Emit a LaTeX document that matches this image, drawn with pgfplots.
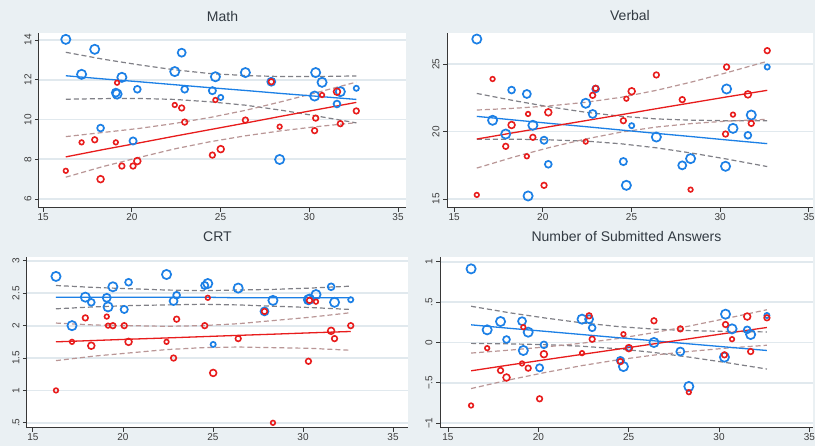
\documentclass[border=0pt]{standalone}
\usepackage{pgfplots}
\pgfplotsset{compat=1.18}
\usepackage{pgfplotstable}
\usepackage{fontspec}
\setmainfont{Liberation Sans}
\definecolor{bg}{RGB}{234,240,243}
\definecolor{gridc}{RGB}{225,233,238}
\definecolor{axc}{RGB}{55,55,55}
\definecolor{tickc}{RGB}{60,60,60}
\definecolor{titc}{RGB}{50,58,66}
\definecolor{mblue}{RGB}{28,128,230}
\definecolor{mred}{RGB}{232,28,28}
\definecolor{bband}{RGB}{128,128,135}
\definecolor{rband}{RGB}{185,150,150}

% per-subject marker radii (pt): bs = blue, rs = red
\pgfplotstableread{
x     bs  rs  b      r
16.28 4.6 2.3 14.03  7.42
17.17 4.6 2.3 12.27  8.85
17.91 4.6 2.8 13.53  8.98
18.24 3.4 3.4  9.57  7.00
19.10 4.0 2.3 11.35  8.85
19.17 4.6 2.3 11.28 11.85
19.44 4.6 2.8 12.12  7.66
20.07 3.6 2.8  8.92  7.66
20.31 3.4 3.4 11.52  7.91
22.42 4.6 2.3 12.41 10.73
22.81 4.0 2.8 13.36 10.58
22.98 3.4 2.8 11.52  9.87
24.54 3.6 2.8 11.45  8.21
24.71 4.6 2.3 12.15 10.98
25.01 2.6 3.4 11.11  8.51
26.40 4.6 2.8 12.36  9.97
27.86 4.0 2.8 11.90 11.90
28.33 4.6 2.3  7.99  9.64
30.30 4.6 2.8 11.18  9.44
30.36 4.6 2.8 12.36 10.07
30.72 4.6 2.3 11.87 11.23
31.56 3.4 3.4 10.78 11.40
31.75 4.6 2.8 11.40  9.79
32.65 2.6 2.8 11.57 10.43
}\mathtab
\pgfplotstableread{
x     bs  rs  b      r
16.28 4.6 2.3 26.85 15.30
17.17 4.6 2.3 20.83 23.89
17.91 4.6 2.8 19.81 18.90
18.24 3.4 3.4 23.07 20.48
19.10 4.0 2.3 22.78 18.16
19.17 4.6 2.3 15.22 21.30
19.44 4.6 2.8 20.46 19.57
20.07 3.6 2.8 19.35 16.01
20.31 3.4 3.4 17.57 21.42
22.42 4.6 2.3 22.09 19.25
22.81 4.0 2.8 21.30 22.68
22.98 3.4 2.8 23.15 23.20
24.54 3.6 2.8 17.77 20.80
24.71 4.6 2.3 16.01 22.43
25.01 2.6 3.4 20.43 22.98
26.40 4.6 2.8 19.59 24.19
27.86 4.0 2.8 17.49 22.36
28.33 4.6 2.3 17.99 15.69
30.30 4.6 2.8 17.42 19.81
30.36 4.6 2.8 23.15 24.78
30.72 4.6 2.3 20.23 21.25
31.56 3.4 3.4 19.72 22.75
31.75 4.6 2.8 21.22 20.60
32.65 2.6 2.8 24.78 25.99
}\verbtab
\pgfplotstableread{
x     bs  rs  b     r
16.28 4.6 2.3 2.76 1.00
17.17 4.6 2.3 2.00 1.75
17.91 4.6 2.8 2.44 2.12
18.24 3.4 3.4 2.36 1.69
19.10 4.0 2.3 2.43 2.14
19.17 4.6 2.3 2.29 2.00
19.44 4.6 2.8 2.60 2.00
20.07 3.6 2.8 2.25 2.00
20.31 3.4 3.4 2.67 1.75
22.42 4.6 2.3 2.79 1.75
22.81 4.0 2.8 2.38 1.50
22.98 3.4 2.8 2.47 2.10
24.54 3.6 2.8 2.62 2.00
24.71 4.6 2.3 2.65 2.43
25.01 2.6 3.4 1.71 1.27
26.40 4.6 2.8 2.58 1.80
27.86 4.0 2.8 2.22 2.22
28.33 4.6 2.3 2.39 0.50
30.30 4.6 2.8 2.40 1.45
30.36 4.6 2.8 2.41 2.39
30.72 4.6 2.3 2.48 2.37
31.56 3.4 3.4 2.60 1.92
31.75 4.6 2.8 2.36 1.80
32.65 2.6 2.8 2.40 2.00
}\crttab
\pgfplotstableread{
x     bs  rs  b      r
16.28 4.6 2.3  0.913 -0.781
17.17 4.6 2.3  0.157 -0.070
17.91 4.6 2.8  0.260 -0.347
18.24 3.4 3.4  0.037 -0.434
19.10 4.0 2.3  0.264 -0.260
19.17 4.6 2.3 -0.099  0.190
19.44 4.6 2.8  0.128 -0.318
20.07 3.6 2.8 -0.314 -0.698
20.31 3.4 3.4 -0.029 -0.145
22.42 4.6 2.3  0.289 -0.132
22.81 4.0 2.8  0.289  0.331
22.98 3.4 2.8  0.182  0.041
24.54 3.6 2.8 -0.223 -0.236
24.71 4.6 2.3 -0.298  0.103
25.01 2.6 3.4 -0.070 -0.070
26.40 4.6 2.8  0.000  0.269
27.86 4.0 2.8 -0.112  0.169
28.33 4.6 2.3 -0.545 -0.616
30.30 4.6 2.8 -0.182 -0.153
30.36 4.6 2.8  0.351  0.223
30.72 4.6 2.3  0.169  0.041
31.56 3.4 3.4  0.157  0.322
31.75 4.6 2.8  0.099 -0.112
32.65 2.6 2.8  0.335  0.306
}\numtab

% fitted lines and confidence bands
\pgfplotstableread{
x     bf    bu    bl    rf    ru    rl
16.28 12.20 13.38 11.02  8.12  9.14  7.10
18.4  12.04 13.03 11.05  8.49  9.35  7.64
20.4  11.90 12.75 11.06  8.82  9.55  8.09
22.4  11.75 12.50 11.01  9.16  9.80  8.52
24.4  11.60 12.31 10.89  9.49 10.10  8.88
26.4  11.46 12.21 10.72  9.82 10.46  9.18
28.4  11.31 12.16 10.47 10.16 10.89  9.43
30.4  11.17 12.16 10.18 10.49 11.35  9.64
32.65 11.01 12.19  9.83 10.86 11.88  9.84
}\mathfit
\pgfplotstableread{
x     bf    bu    bl    rf    ru    rl
16.28 21.12 22.82 19.42 19.44 21.59 17.29
18.4  20.85 22.28 19.43 19.92 21.72 18.12
20.4  20.60 21.82 19.38 20.36 21.90 18.82
22.4  20.36 21.43 19.29 20.80 22.16 19.44
24.4  20.11 21.13 19.09 21.24 22.53 19.95
26.4  19.86 20.93 18.79 21.69 23.05 20.33
28.4  19.62 20.84 18.40 22.13 23.67 20.59
30.4  19.37 20.80 17.95 22.57 24.37 20.77
32.65 19.10 20.80 17.40 23.05 25.20 20.90
}\verbfit
\pgfplotstableread{
x     bf    bu    bl    rf    ru    rl
16.28 2.44 2.62 2.26 1.750 2.04 1.46
18.4  2.44 2.59 2.29 1.771 2.01 1.53
20.4  2.44 2.57 2.31 1.791 2.00 1.58
22.4  2.44 2.55 2.32 1.810 1.99 1.63
24.4  2.44 2.54 2.33 1.830 2.00 1.66
26.4  2.43 2.55 2.32 1.850 2.03 1.67
28.4  2.43 2.56 2.30 1.869 2.08 1.66
30.4  2.43 2.58 2.28 1.889 2.13 1.65
32.65 2.43 2.61 2.25 1.910 2.20 1.62
}\crtfit
\pgfplotstableread{
x     bf     bu    bl     rf     ru     rl
16.28  0.219 0.449 -0.011 -0.351 -0.131 -0.571
18.4   0.176 0.369 -0.017 -0.279 -0.095 -0.463
20.4   0.138 0.303 -0.027 -0.213 -0.055 -0.371
22.4   0.099 0.244 -0.046 -0.148 -0.009 -0.287
24.4   0.060 0.198 -0.078 -0.083  0.049 -0.215
26.4   0.021 0.166 -0.124 -0.017  0.122 -0.156
28.4  -0.018 0.147 -0.183  0.048  0.206 -0.110
30.4  -0.056 0.137 -0.249  0.114  0.298 -0.070
32.65 -0.099 0.131 -0.329  0.186  0.406 -0.034
}\numfit

\pgfplotsset{
  panel/.style={
    scale only axis,
    axis background/.style={fill=white},
    axis x line*=bottom, axis y line*=left,
    axis line style={draw=axc, line width=1pt},
    tick align=outside, major tick length=4pt,
    every tick/.style={draw=axc, line width=0.9pt},
    ymajorgrids, major grid style={draw=gridc, line width=1.8pt},
    xtick={15,20,25,30,35},
    ticklabel style={font=\fontsize{10}{12}\selectfont, text=tickc},
    xticklabel style={inner sep=1.5pt},
    yticklabel style={rotate=90, anchor=south},
    /pgf/number format/assume math mode=true,
    title style={font=\fontsize{14}{16}\selectfont, text=titc, at={(0.5,1)}, anchor=center},
    clip=false,
  },
  bpts/.style={scatter, only marks, mark=o,
    scatter/use mapped color={draw=mblue, line width=1.7pt},
    visualization depends on={\thisrow{bs} \as \ms},
    scatter/@pre marker code/.append style={/tikz/mark size=\ms, /tikz/line width=1.7pt},
    scatter/@post marker code/.append style={}},
  rpts/.style={scatter, only marks, mark=o,
    scatter/use mapped color={draw=mred, line width=1.6pt},
    visualization depends on={\thisrow{rs} \as \ms},
    scatter/@pre marker code/.append style={/tikz/mark size=\ms, /tikz/line width=1.6pt},
    scatter/@post marker code/.append style={}},
  bci/.style={no marks, draw=bband, line width=1.2pt, dash pattern=on 5pt off 3pt},
  rci/.style={no marks, draw=rband, line width=1.2pt, dash pattern=on 5pt off 3pt},
  bfit/.style={no marks, draw=mblue, line width=1.3pt},
  rfit/.style={no marks, draw=mred, line width=1.3pt},
}

\begin{document}
\begin{tikzpicture}
\useasboundingbox (0,0) rectangle (815pt,446pt);
\fill[bg] (0,0) rectangle (815pt,446pt);

% Math
\begin{axis}[panel, at={(39pt,238pt)}, anchor=south west,
  width=367pt, height=175pt,
  xmin=14.77, xmax=35.45, ymin=5.55, ymax=14.35,
  ytick={6,8,10,12,14},
  title=Math, title style={yshift=11pt}]
\addplot[bpts] table[x=x,y=b] \mathtab;
\addplot[rpts] table[x=x,y=r] \mathtab;
\addplot[bci] table[x=x,y=bu] \mathfit;
\addplot[bci] table[x=x,y=bl] \mathfit;
\addplot[rci] table[x=x,y=ru] \mathfit;
\addplot[rci] table[x=x,y=rl] \mathfit;
\addplot[bfit] table[x=x,y=bf] \mathfit;
\addplot[rfit] table[x=x,y=rf] \mathfit;
\end{axis}

% Verbal
\begin{axis}[panel, at={(447pt,238pt)}, anchor=south west,
  width=366pt, height=175pt,
  xmin=14.6, xmax=35.23, ymin=14.33, ymax=27.3,
  ytick={15,20,25},
  title=Verbal, title style={yshift=11pt}]
\addplot[bpts] table[x=x,y=b] \verbtab;
\addplot[rpts] table[x=x,y=r] \verbtab;
\addplot[bci] table[x=x,y=bu] \verbfit;
\addplot[bci] table[x=x,y=bl] \verbfit;
\addplot[rci] table[x=x,y=ru] \verbfit;
\addplot[rci] table[x=x,y=rl] \verbfit;
\addplot[bfit] table[x=x,y=bf] \verbfit;
\addplot[rfit] table[x=x,y=rf] \verbfit;
\end{axis}

% CRT
\begin{axis}[panel, at={(27pt,18pt)}, anchor=south west,
  width=381pt, height=171pt,
  xmin=14.67, xmax=35.83, ymin=0.42, ymax=3.06,
  ytick={0.5,1,1.5,2,2.5,3},
  yticklabels={.5,1,1.5,2,2.5,3},
  title=CRT, title style={yshift=14pt}]
\addplot[bpts] table[x=x,y=b] \crttab;
\addplot[rpts] table[x=x,y=r] \crttab;
\addplot[bci] table[x=x,y=bu] \crtfit;
\addplot[bci] table[x=x,y=bl] \crtfit;
\addplot[rci] table[x=x,y=ru] \crtfit;
\addplot[rci] table[x=x,y=rl] \crtfit;
\addplot[bfit] table[x=x,y=bf] \crtfit;
\addplot[rfit] table[x=x,y=rf] \crtfit;
\end{axis}

% Number of Submitted Answers
\begin{axis}[panel, at={(440pt,18pt)}, anchor=south west,
  width=373pt, height=171pt,
  xmin=14.56, xmax=35.2, ymin=-1.06, ymax=1.06,
  ytick={-1,-0.5,0,0.5,1},
  yticklabels={−1,−.5,0,.5,1},
  title=Number of Submitted Answers, title style={yshift=14pt}]
\addplot[bpts] table[x=x,y=b] \numtab;
\addplot[rpts] table[x=x,y=r] \numtab;
\addplot[bci] table[x=x,y=bu] \numfit;
\addplot[bci] table[x=x,y=bl] \numfit;
\addplot[rci] table[x=x,y=ru] \numfit;
\addplot[rci] table[x=x,y=rl] \numfit;
\addplot[bfit] table[x=x,y=bf] \numfit;
\addplot[rfit] table[x=x,y=rf] \numfit;
\end{axis}
\end{tikzpicture}
\end{document}
